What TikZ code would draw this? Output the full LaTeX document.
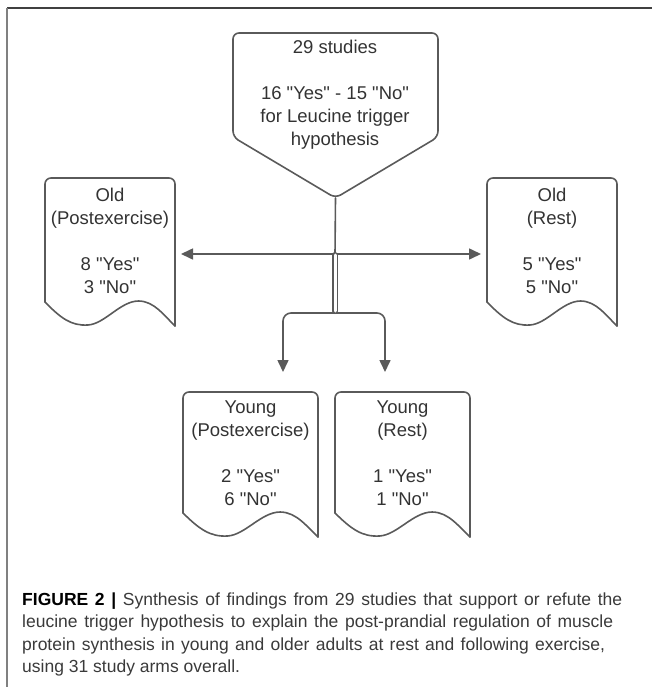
\documentclass[tikz,border=0pt]{standalone}
\usepackage{fontspec}
\setmainfont{Liberation Sans}[Ligatures=TeXOff]
\usetikzlibrary{arrows.meta,calc}
\definecolor{ln}{HTML}{5A5A5A}
\definecolor{tx}{HTML}{333333}
\definecolor{capc}{HTML}{3A3A3A}
\newcommand\docshape[1]{%
  \draw[shp, rounded corners=6pt] let \p1=(#1.south west), \p2=(#1.north east) in
    (\x1,{\y1+24pt}) -- (\x1,\y2) -- (\x2,\y2) -- (\x2,\y1);
  \draw[shp] let \p1=(#1.south west), \p2=(#1.north east) in
    (\x1,{\y1+24pt}) .. controls ({\x1+0.12*(\x2-\x1)},{\y1+8pt}) and ({\x1+0.2*(\x2-\x1)},\y1) ..
    ({\x1+0.33*(\x2-\x1)},{\y1+1pt}) .. controls ({\x1+0.46*(\x2-\x1)},{\y1+2pt}) and ({\x1+0.58*(\x2-\x1)},{\y1+25pt}) ..
    ({\x1+0.72*(\x2-\x1)},{\y1+25pt}) .. controls ({\x1+0.84*(\x2-\x1)},{\y1+25pt}) and ({\x1+0.92*(\x2-\x1)},{\y1+10pt}) ..
    (\x2,\y1);
}
\begin{document}
\begin{tikzpicture}[x=1pt,y=-1pt,
  shp/.style={draw=ln, line width=1.6pt, line join=round, line cap=round},
  box/.style={inner sep=0pt, outer sep=0pt, draw=none},
  txt/.style={inner sep=0pt, align=center, text=tx, font=\fontsize{18.5}{23}\selectfont, anchor=north},
  arr/.style={draw=ln, line width=1.6pt, -{Triangle[length=12pt,width=11pt]}},
  capt/.style={anchor=base west, inner sep=0pt, text=capc, font=\fontsize{17.5}{22}\selectfont}]
\useasboundingbox (0,0) rectangle (652,687);
% frame
\draw[line width=1.5pt, draw=black!75] (7,8) -- (652,8);
\draw[line width=1.5pt, draw=black!50] (7,8) -- (7,687);
% top pentagon
\node[box, minimum width=205pt, minimum height=165pt] (top) at (335.5,115.5) {};
\draw[shp, rounded corners=6pt] (top.south) -- ($(top.south west)+(0,-61)$) -- (top.north west) -- (top.north east) -- ($(top.south east)+(0,-61)$) -- cycle;
\node[txt] (toptxt) at (335,40) {29 studies\\[23pt]16 "Yes" - 15 "No"\\for Leucine trigger\\hypothesis};
% documents
\node[box, minimum width=130pt, minimum height=148pt] (op) at (110,252) {};
\node[box, minimum width=130pt, minimum height=148pt] (or) at (552,252) {};
\node[box, minimum width=135pt, minimum height=145pt] (yp) at (250.5,464.5) {};
\node[box, minimum width=135pt, minimum height=145pt] (yr) at (402.5,464.5) {};
\docshape{op}\docshape{or}\docshape{yp}\docshape{yr}
\node[txt] (optxt) at (110,188) {Old\\(Postexercise)\\[23pt]8 "Yes"\\3 "No"};
\node[txt] (ortxt) at (552,188) {Old\\(Rest)\\[23pt]5 "Yes"\\5 "No"};
\node[txt] (yptxt) at (250.5,401) {Young\\(Postexercise)\\[23pt]2 "Yes"\\6 "No"};
\node[txt] (yrtxt) at (402.5,401) {Young\\(Rest)\\[23pt]1 "Yes"\\1 "No"};
% connectors
\coordinate (j1) at (335,254);
\coordinate (j2) at (335,313);
\coordinate (a1) at (283,372);
\coordinate (a2) at (385,372);
\draw[shp] (top.south) -- (j1);
\draw[arr] (j1) -- ($(op.east)+(6,2)$);
\draw[arr] (j1) -- ($(or.west)+(-6,2)$);
\draw[arr, rounded corners=8pt] (j2) -| (a1);
\draw[arr, rounded corners=8pt] (j2) -| (a2);
\draw[draw=ln, line width=1.5pt, double=white, double distance=3pt, line cap=round] ($(j1)+(0,1)$) -- ($(j2)+(0,-2)$);
% caption
\node[capt] (c1) at (22,605) {\hbox to 600pt{{\color{black}\bfseries FIGURE 2 |} Synthesis of findings from 29 studies that support or refute the}};
\node[capt] (c2) at (22,627) {\hbox to 591pt{leucine trigger hypothesis to explain the post-prandial regulation of muscle}};
\node[capt] (c3) at (22,650) {\hbox to 583pt{protein synthesis in young and older adults at rest and following exercise,}};
\node[capt] (c4) at (22,672) {using 31 study arms overall.};
\end{tikzpicture}
\end{document}
